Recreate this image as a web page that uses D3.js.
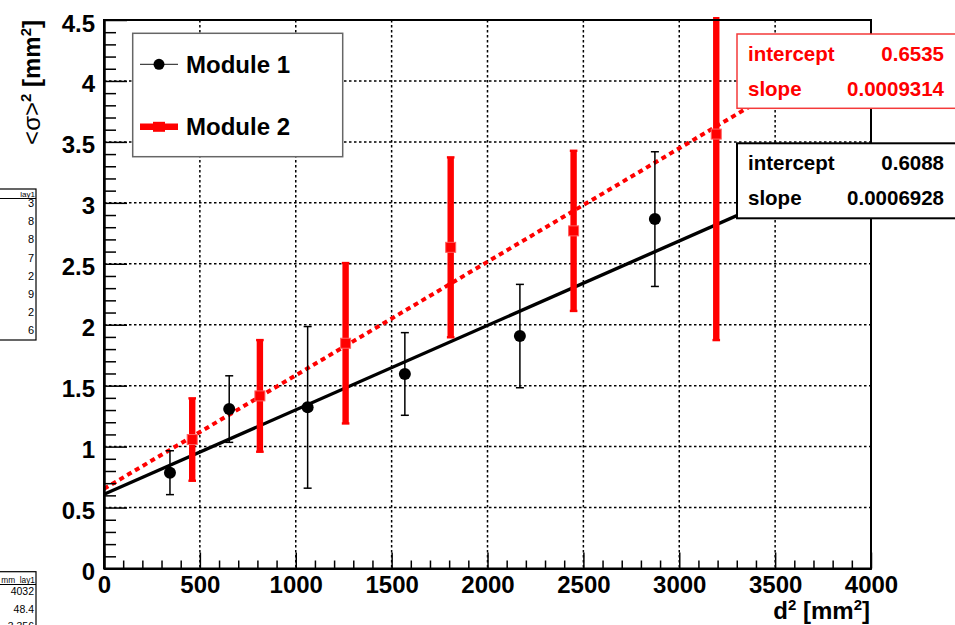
<!DOCTYPE html>
<html><head><meta charset="utf-8">
<script src="https://cdn.jsdelivr.net/npm/d3@7"></script>
<style>
html,body{margin:0;padding:0;background:#fff;}
svg{display:block;}
text{font-family:"Liberation Sans",Arial,Helvetica,sans-serif;}
</style></head><body>
<svg id="c" width="955" height="625"></svg>
<script>
// Mean squared width <sigma>^2 versus squared drift distance d^2, two modules
const m1X   = [344, 653, 1062, 1569, 2169, 2873];
const m1Y   = [0.786, 1.308, 1.322, 1.596, 1.907, 2.867];
const m1Err = [0.18, 0.273, 0.663, 0.339, 0.424, 0.553];

const m2X   = [460, 813, 1260, 1808, 2449, 3193];
const m2Y   = [1.058, 1.416, 1.848, 2.635, 2.770, 3.564];
const m2Err = [0.338, 0.458, 0.658, 0.738, 0.657, 1.69];

// linear fit results: [intercept, slope]
const fitNames = ["intercept", "slope"];
const fit1 = [0.6088, 0.0006928];
const fit2 = [0.6535, 0.0009314];
const fit1Text = ["0.6088", "0.0006928"];
const fit2Text = ["0.6535", "0.0009314"];

const seriesNames = ["Module 1", "Module 2"];

const xMajor = [0, 500, 1000, 1500, 2000, 2500, 3000, 3500, 4000];
const yMajor = [0, 0.5, 1, 1.5, 2, 2.5, 3, 3.5, 4, 4.5];
const yLabels = ["0", "0.5", "1", "1.5", "2", "2.5", "3", "3.5", "4", "4.5"];

// leftover statistics panels at the left edge of the canvas
const statAHeader = "lay1";
const statARows = ["3", "8", "8", "7", "2", "9", "2", "6"];
const statBHeader = "mm_lay1";
const statBRows = ["4032", "48.4", "3.356"];

const svg = d3.select("#c");
const L = 104, R = 871, T = 20, B = 568.5;
const x = d3.scaleLinear().domain([0, 4000]).range([L, R]);
const y = d3.scaleLinear().domain([0, 4.5]).range([B, T]);

const xMinor = d3.range(0, 4001, 100).filter(v => v % 500 !== 0);
const yMinor = d3.range(0, 46).map(v => v / 10).filter(v => Math.round(v * 10) % 5 !== 0);

// grid
const grid = svg.append("g").attr("stroke", "#000").attr("stroke-width", 1.5)
  .attr("stroke-dasharray", "2.5,2.5").attr("fill", "none");
grid.selectAll("line.v").data(xMajor.slice(1, -1)).join("line")
  .attr("x1", d => x(d)).attr("x2", d => x(d)).attr("y1", T).attr("y2", B);
grid.selectAll("line.h").data(yMajor.slice(1, -1)).join("line")
  .attr("x1", L).attr("x2", R).attr("y1", d => y(d)).attr("y2", d => y(d));

// clip region for data (error bars may run slightly past the top edge)
svg.append("clipPath").attr("id", "plotclip").append("rect")
  .attr("x", L).attr("y", T - 3).attr("width", R - L).attr("height", B - T + 3);
const plot = svg.append("g").attr("clip-path", "url(#plotclip)");

// fit lines
const line = d3.line().x(d => x(d[0])).y(d => y(d[1]));
const fitPts = f => [0, 4000].map(v => [v, f[0] + f[1] * v]);
plot.append("path").attr("d", line(fitPts(fit1)))
  .attr("stroke", "#000").attr("stroke-width", 3.4).attr("fill", "none");
plot.append("path").attr("d", line(fitPts(fit2)))
  .attr("stroke", "#ff0000").attr("stroke-width", 4).attr("stroke-dasharray", "5,4").attr("fill", "none");

// Module 1 points
const g1 = plot.append("g");
m1X.forEach((xv, i) => {
  const cx = x(xv), top = y(m1Y[i] + m1Err[i]), bot = y(m1Y[i] - m1Err[i]);
  g1.append("line").attr("x1", cx).attr("x2", cx).attr("y1", top).attr("y2", bot)
    .attr("stroke", "#000").attr("stroke-width", 1.5);
  [top, bot].forEach(yy => g1.append("line").attr("x1", cx - 4).attr("x2", cx + 4)
    .attr("y1", yy).attr("y2", yy).attr("stroke", "#000").attr("stroke-width", 1.5));
  g1.append("circle").attr("cx", cx).attr("cy", y(m1Y[i])).attr("r", 6).attr("fill", "#000");
});

// Module 2 points
const g2 = plot.append("g");
m2X.forEach((xv, i) => {
  const cx = x(xv), top = y(m2Y[i] + m2Err[i]), bot = y(m2Y[i] - m2Err[i]);
  g2.append("rect").attr("x", cx - 3.2).attr("y", top).attr("width", 6.4).attr("height", bot - top)
    .attr("fill", "#ff0000");
  [top, bot].forEach(yy => g2.append("rect").attr("x", cx - 3.8).attr("y", yy - 1.2)
    .attr("width", 7.6).attr("height", 2.4).attr("fill", "#ff0000"));
  g2.append("rect").attr("x", cx - 5).attr("y", y(m2Y[i]) - 5).attr("width", 10).attr("height", 10)
    .attr("fill", "#ff0000").attr("stroke", "#ff6060").attr("stroke-width", 1);
});

// axes
function styleAxis(g) {
  g.selectAll("path.domain").attr("stroke", "#000").attr("stroke-width", 2);
  g.selectAll(".tick line").attr("stroke", "#000").attr("stroke-width", 1.5);
  g.selectAll("text").attr("fill", "#000").attr("font-size", 24).attr("font-weight", "bold")
    .attr("font-family", '"Liberation Sans",Arial,Helvetica,sans-serif');
}
const xAx = svg.append("g").attr("transform", `translate(0,${B})`)
  .call(d3.axisBottom(x).tickValues(xMajor).tickSize(-16).tickSizeOuter(0).tickFormat(d3.format("d")));
styleAxis(xAx);
xAx.selectAll("text").attr("y", 24.5).attr("dy", 0);
svg.append("g").attr("transform", `translate(0,${B})`)
  .call(d3.axisBottom(x).tickValues(xMinor).tickSize(-8).tickSizeOuter(0).tickFormat(""))
  .call(styleAxis);

const yAx = svg.append("g").attr("transform", `translate(${L},0)`)
  .call(d3.axisLeft(y).tickValues(yMajor).tickSize(-23).tickSizeOuter(0).tickFormat((d, i) => yLabels[i]));
styleAxis(yAx);
yAx.selectAll("text").attr("x", -9).attr("dy", 0).attr("y", 11);
svg.append("g").attr("transform", `translate(${L},0)`)
  .call(d3.axisLeft(y).tickValues(yMinor).tickSize(-12).tickSizeOuter(0).tickFormat(""))
  .call(styleAxis);

// frame
svg.append("rect").attr("x", L).attr("y", T).attr("width", R - L).attr("height", B - T)
  .attr("fill", "none").attr("stroke", "#000").attr("stroke-width", 2);

// axis titles
const xt = svg.append("text").attr("x", 870).attr("y", 619).attr("text-anchor", "end")
  .attr("font-size", 24).attr("font-weight", "bold");
xt.append("tspan").text("d");
xt.append("tspan").attr("dy", -9).attr("font-size", 15).text("2");
xt.append("tspan").attr("dy", 9).text(" [mm");
xt.append("tspan").attr("dy", -9).attr("font-size", 15).text("2");
xt.append("tspan").attr("dy", 9).text("]");

const yt = svg.append("text").attr("transform", "translate(40,20) rotate(-90)")
  .attr("text-anchor", "end").attr("font-size", 24).attr("font-weight", "bold");
yt.append("tspan").attr("font-weight", "normal").text("<σ>");
yt.append("tspan").attr("dy", -9).attr("font-size", 15).text("2");
yt.append("tspan").attr("dy", 9).text(" [mm");
yt.append("tspan").attr("dy", -9).attr("font-size", 15).text("2");
yt.append("tspan").attr("dy", 9).text("]");

// fit result boxes
function fitBox(y0, h, color, textColor, strokeW, values) {
  const g = svg.append("g");
  g.append("rect").attr("x", 737).attr("y", y0).attr("width", 240).attr("height", h)
    .attr("fill", "#fff").attr("stroke", color).attr("stroke-width", strokeW);
  fitNames.forEach((n, i) => {
    const by = y0 + 26.5 + i * 35.5;
    g.append("text").attr("x", 748).attr("y", by).attr("font-size", 20.5).attr("font-weight", "bold")
      .attr("fill", textColor).text(n);
    g.append("text").attr("x", 944).attr("y", by).attr("text-anchor", "end").attr("font-size", 20.5)
      .attr("font-weight", "bold").attr("fill", textColor).text(values[i]);
  });
}
fitBox(34, 74.3, "#f43a3a", "#ff0000", 1.5, fit2Text);
fitBox(143.3, 75, "#000", "#000", 2, fit1Text);

// legend
const lg = svg.append("g");
lg.append("rect").attr("x", 132.7).attr("y", 33.3).attr("width", 210).attr("height", 123.4)
  .attr("fill", "#fff").attr("stroke", "#666").attr("stroke-width", 1.5);
lg.append("line").attr("x1", 140).attr("x2", 178).attr("y1", 64.3).attr("y2", 64.3)
  .attr("stroke", "#444").attr("stroke-width", 1.2);
lg.append("circle").attr("cx", 159).attr("cy", 64.3).attr("r", 5.5).attr("fill", "#000");
lg.append("rect").attr("x", 140).attr("y", 123.5).attr("width", 38).attr("height", 6.5).attr("fill", "#ff0000");
lg.append("rect").attr("x", 153).attr("y", 121.8).attr("width", 12).attr("height", 10).attr("fill", "#ff0000");
seriesNames.forEach((n, i) => {
  lg.append("text").attr("x", 186).attr("y", 73.3 + i * 62).attr("font-size", 24)
    .attr("font-weight", "bold").text(n);
});

// remains of statistics panels on the left edge
const sa = svg.append("g");
sa.append("rect").attr("x", -10).attr("y", 189).attr("width", 46).attr("height", 151)
  .attr("fill", "#fff").attr("stroke", "#000").attr("stroke-width", 1.2);
sa.append("line").attr("x1", -10).attr("x2", 36).attr("y1", 198.5).attr("y2", 198.5)
  .attr("stroke", "#000").attr("stroke-width", 1);
sa.append("text").attr("x", 35).attr("y", 196.5).attr("text-anchor", "end").attr("font-size", 8).text(statAHeader);
statARows.forEach((t, i) => sa.append("text").attr("x", 34).attr("y", 207 + i * 18.2)
  .attr("text-anchor", "end").attr("font-size", 11).text(t));

const sb = svg.append("g");
sb.append("rect").attr("x", -10).attr("y", 571.7).attr("width", 46).attr("height", 80)
  .attr("fill", "#fff").attr("stroke", "#000").attr("stroke-width", 1.2);
sb.append("line").attr("x1", -10).attr("x2", 36).attr("y1", 584.5).attr("y2", 584.5)
  .attr("stroke", "#000").attr("stroke-width", 1);
sb.append("text").attr("x", 35).attr("y", 582.5).attr("text-anchor", "end").attr("font-size", 8.3).text(statBHeader);
statBRows.forEach((t, i) => sb.append("text").attr("x", 34).attr("y", 595 + i * 17.5)
  .attr("text-anchor", "end").attr("font-size", 10.5).text(t));
</script>
</body></html>
